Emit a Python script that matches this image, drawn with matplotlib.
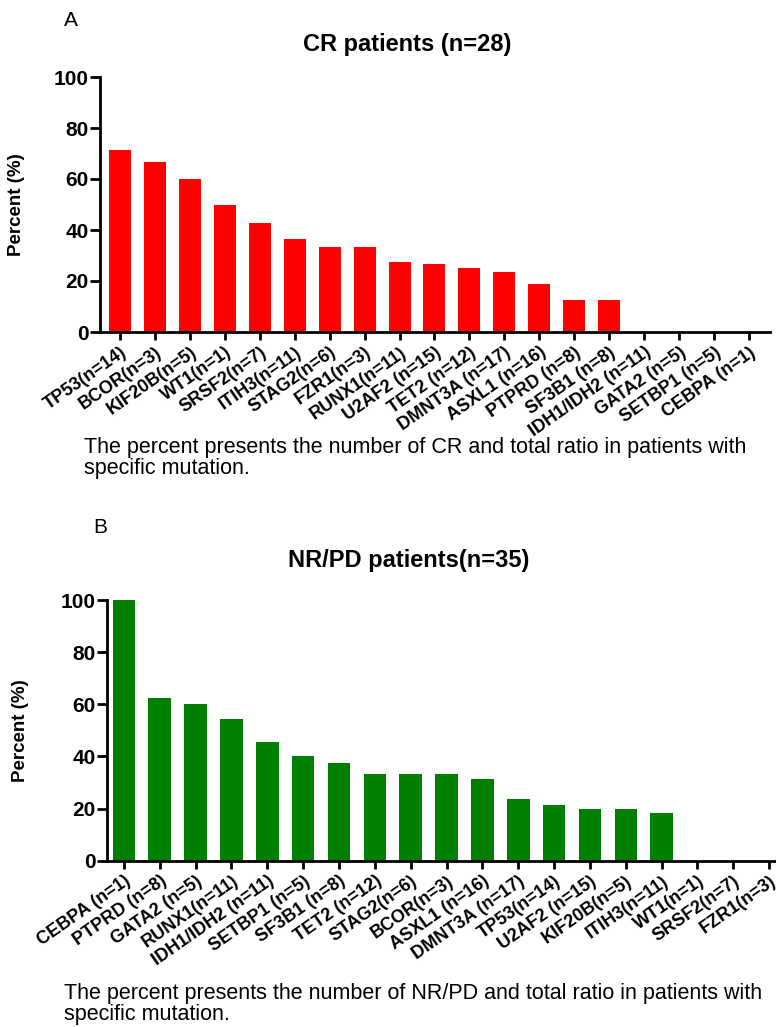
import matplotlib.pyplot as plt

plt.rcParams["font.family"] = ["Liberation Sans", "DejaVu Sans"]

# Panel A: CR patients
cr_genes = ["TP53(n=14)", "BCOR(n=3)", "KIF20B(n=5)", "WT1(n=1)", "SRSF2(n=7)",
            "ITIH3(n=11)", "STAG2(n=6)", "FZR1(n=3)", "RUNX1(n=11)", "U2AF2 (n=15)",
            "TET2 (n=12)", "DMNT3A (n=17)", "ASXL1 (n=16)", "PTPRD (n=8)", "SF3B1 (n=8)",
            "IDH1/IDH2 (n=11)", "GATA2 (n=5)", "SETBP1 (n=5)", "CEBPA (n=1)"]
cr_pct = [71.4, 66.7, 60.0, 50.0, 42.9, 36.4, 33.3, 33.3, 27.3, 26.7,
          25.0, 23.5, 18.8, 12.5, 12.5, 0, 0, 0, 0]

# Panel B: NR/PD patients
nr_genes = ["CEBPA (n=1)", "PTPRD (n=8)", "GATA2 (n=5)", "RUNX1(n=11)", "IDH1/IDH2 (n=11)",
            "SETBP1 (n=5)", "SF3B1 (n=8)", "TET2 (n=12)", "STAG2(n=6)", "BCOR(n=3)",
            "ASXL1 (n=16)", "DMNT3A (n=17)", "TP53(n=14)", "U2AF2 (n=15)", "KIF20B(n=5)",
            "ITIH3(n=11)", "WT1(n=1)", "SRSF2(n=7)", "FZR1(n=3)"]
nr_pct = [100.0, 62.5, 60.0, 54.5, 45.5, 40.0, 37.5, 33.3, 33.3, 33.3,
          31.3, 23.5, 21.4, 20.0, 20.0, 18.2, 0, 0, 0]

W, H = 776, 1027
fig = plt.figure(figsize=(W / 100, H / 100), dpi=100)


def style_axes(ax, genes):
    ax.set_ylim(0, 100)
    ax.set_yticks([0, 20, 40, 60, 80, 100])
    ax.set_xticks(range(len(genes)))
    ax.set_xticklabels(genes, rotation=35, ha="right", va="top",
                       rotation_mode="anchor", fontsize=13, fontweight="bold")
    for lab in ax.get_yticklabels():
        lab.set_fontweight("bold")
        lab.set_fontsize(15)
    ax.spines["top"].set_visible(False)
    ax.spines["right"].set_visible(False)
    ax.spines["left"].set_linewidth(2)
    ax.spines["bottom"].set_linewidth(2)
    ax.tick_params(axis="y", width=2, length=7, pad=1)
    ax.tick_params(axis="x", width=2, length=5.5, pad=3)
    ax.set_ylabel("Percent (%)", fontsize=13.5, fontweight="bold")


# A
ax1 = fig.add_axes([100 / W, 1 - 332 / H, 670 / W, 255 / H])
ax1.bar(range(len(cr_genes)), cr_pct, width=0.63, color="#ff0000")
ax1.set_xlim(-0.57, 18.6)
style_axes(ax1, cr_genes)
ax1.yaxis.set_label_coords(-75 / 670, 0.5)

fig.text(64 / W, 1 - 26 / H, "A", fontsize=15)
fig.text(407 / W, 1 - 45 / H, "CR patients (n=28)", fontsize=17,
         fontweight="bold", ha="center", va="center")
fig.text(84 / W, 1 - 458 / H,
         "The percent presents the number of CR and total ratio in patients with\nspecific mutation.",
         fontsize=15.5, va="center", linespacing=0.95)

# B
ax2 = fig.add_axes([106.7 / W, 1 - 860.7 / H, 684 / W, 260.7 / H])
ax2.bar(range(len(nr_genes)), nr_pct, width=0.63, color="#008000")
ax2.set_xlim(-0.48, 18.6)
style_axes(ax2, nr_genes)
ax2.yaxis.set_label_coords(-78 / 684, 0.5)

fig.text(93 / W, 1 - 533 / H, "B", fontsize=15)
fig.text(409 / W, 1 - 560 / H, "NR/PD patients(n=35)", fontsize=17,
         fontweight="bold", ha="center", va="center")
fig.text(64 / W, 1 - 1004 / H,
         "The percent presents the number of NR/PD and total ratio in patients with\nspecific mutation.",
         fontsize=15.5, va="center", linespacing=0.95)

plt.savefig("out.png", dpi=100)
plt.close()
